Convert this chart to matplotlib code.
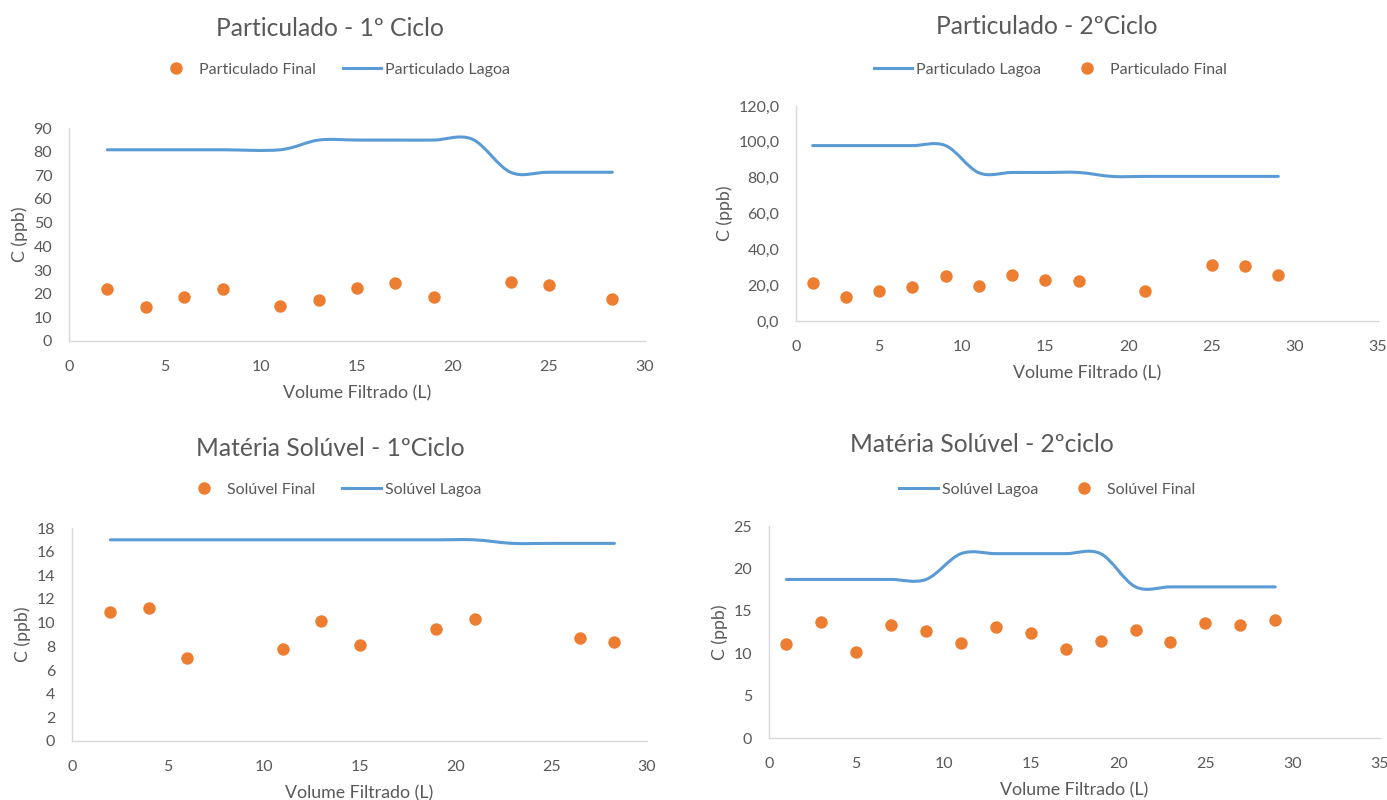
import matplotlib
matplotlib.use("Agg")
import matplotlib.pyplot as plt
from matplotlib.path import Path
from matplotlib.patches import PathPatch
from matplotlib.lines import Line2D
from matplotlib.ticker import FuncFormatter, MultipleLocator
import numpy as np

plt.rcParams['font.family'] = ['Lato', 'DejaVu Sans']

# ---------------- data ----------------
# Panel 1: Particulado - 1º Ciclo
p1_final_x = [2, 4, 6, 8, 11, 13, 15, 17, 19, 23, 25, 28.3]
p1_final_y = [21.9, 14.5, 18.6, 22.0, 14.8, 17.3, 22.6, 24.5, 18.6, 24.8, 23.7, 17.9]
p1_lagoa_x = [2, 4, 6, 8, 11, 13, 15, 17, 19, 21, 23, 25, 28.3]
p1_lagoa_y = [80.8, 80.8, 80.8, 80.8, 80.8, 84.9, 84.9, 84.9, 84.9, 85.3, 71.3, 71.3, 71.3]

# Panel 2: Particulado - 2ºCiclo
p2_final_x = [1, 3, 5, 7, 9, 11, 13, 15, 17, 21, 25, 27, 29]
p2_final_y = [21.0, 13.5, 16.7, 19.1, 25.3, 19.8, 25.6, 22.7, 22.3, 16.7, 31.1, 30.9, 25.6]
p2_lagoa_x = [1, 3, 5, 7, 9, 11, 13, 15, 17, 19, 21, 23, 25, 27, 29]
p2_lagoa_y = [97.9, 97.9, 97.9, 97.9, 97.9, 82.7, 82.9, 82.9, 82.9, 80.7, 80.7, 80.7, 80.7, 80.7, 80.7]

# Panel 3: Matéria Solúvel - 1ºCiclo
p3_final_x = [2, 4, 6, 11, 13, 15, 19, 21, 26.5, 28.3]
p3_final_y = [10.9, 11.2, 7.0, 7.8, 10.1, 8.1, 9.5, 10.3, 8.7, 8.4]
p3_lagoa_x = [2, 4, 6, 8, 11, 13, 15, 17, 19, 21, 23, 25, 28.3]
p3_lagoa_y = [17.0, 17.0, 17.0, 17.0, 17.0, 17.0, 17.0, 17.0, 17.0, 17.0, 16.7, 16.7, 16.7]

# Panel 4: Matéria Solúvel - 2ºciclo
p4_final_x = [1, 3, 5, 7, 9, 11, 13, 15, 17, 19, 21, 23, 25, 27, 29]
p4_final_y = [11.1, 13.7, 10.1, 13.3, 12.6, 11.2, 13.1, 12.4, 10.5, 11.4, 12.7, 11.3, 13.6, 13.3, 13.9]
p4_lagoa_x = [1, 3, 5, 7, 9, 11, 13, 15, 17, 19, 21, 23, 25, 27, 29]
p4_lagoa_y = [18.7, 18.7, 18.7, 18.7, 18.7, 21.74, 21.74, 21.74, 21.74, 21.74, 17.82, 17.82, 17.82, 17.82, 17.82]

titles = ["Particulado - 1º Ciclo", "Particulado - 2ºCiclo",
          "Matéria Solúvel - 1ºCiclo", "Matéria Solúvel - 2ºciclo"]
final_labels = ["Particulado Final", "Particulado Final", "Solúvel Final", "Solúvel Final"]
lagoa_labels = ["Particulado Lagoa", "Particulado Lagoa", "Solúvel Lagoa", "Solúvel Lagoa"]

ORANGE = '#ED7D31'
BLUE = '#5B9BD5'
GRAY = '#595959'
AXC = '#D9D9D9'


def smooth_path(xs, ys):
    """Excel-style smoothed line as cubic Bezier path (Catmull-Rom control points)."""
    P = np.column_stack([xs, ys]).astype(float)
    n = len(P)
    verts = [P[0]]
    codes = [Path.MOVETO]
    for i in range(n - 1):
        p0 = P[i - 1] if i > 0 else P[i]
        p1 = P[i]
        p2 = P[i + 1]
        p3 = P[i + 2] if i + 2 < n else P[i + 1]
        c1 = p1 + (p2 - p0) / 6.0
        c2 = p2 - (p3 - p1) / 6.0
        verts += [c1, c2, p2]
        codes += [Path.CURVE4] * 3
    return Path(verts, codes)


fig = plt.figure(figsize=(13.87, 8.0), dpi=100)

panels = [
    dict(pos=[0.0497, 0.57375, 0.4153, 0.26625], fx=p1_final_x, fy=p1_final_y, lx=p1_lagoa_x, ly=p1_lagoa_y,
         xmax=30, ymax=90, ystep=10, fmt=None, title_xy=(0.238, 0.964), leg_xy=(0.2405, 0.9125), final_first=True),
    dict(pos=[0.5739, 0.59875, 0.4196, 0.26875], fx=p2_final_x, fy=p2_final_y, lx=p2_lagoa_x, ly=p2_lagoa_y,
         xmax=35, ymax=120, ystep=20, fmt='comma', title_xy=(0.755, 0.9675), leg_xy=(0.7574, 0.9125), final_first=False),
    dict(pos=[0.0519, 0.07375, 0.4146, 0.26625], fx=p3_final_x, fy=p3_final_y, lx=p3_lagoa_x, ly=p3_lagoa_y,
         xmax=30, ymax=18, ystep=2, fmt=None, title_xy=(0.2385, 0.440), leg_xy=(0.240, 0.388), final_first=True),
    dict(pos=[0.5544, 0.0775, 0.4405, 0.265], fx=p4_final_x, fy=p4_final_y, lx=p4_lagoa_x, ly=p4_lagoa_y,
         xmax=35, ymax=25, ystep=5, fmt=None, title_xy=(0.7077, 0.445), leg_xy=(0.7552, 0.388), final_first=False),
]

for k, p in enumerate(panels):
    ax = fig.add_axes(p['pos'])
    ax.scatter(p['fx'], p['fy'], s=80, color=ORANGE, zorder=3, linewidths=0)
    path = smooth_path(p['lx'], p['ly'])
    ax.add_patch(PathPatch(path, facecolor='none', edgecolor=BLUE, lw=2.2,
                           capstyle='round', joinstyle='round', transform=ax.transData, zorder=2))
    ax.set_xlim(0, p['xmax'])
    ax.set_ylim(0, p['ymax'])
    ax.xaxis.set_major_locator(MultipleLocator(5))
    ax.yaxis.set_major_locator(MultipleLocator(p['ystep']))
    if p['fmt'] == 'comma':
        ax.yaxis.set_major_formatter(FuncFormatter(lambda v, _: f"{v:.1f}".replace('.', ',')))
    else:
        ax.yaxis.set_major_formatter(FuncFormatter(lambda v, _: f"{v:g}"))
    for s in ['top', 'right']:
        ax.spines[s].set_visible(False)
    for s in ['left', 'bottom']:
        ax.spines[s].set_color(AXC)
        ax.spines[s].set_linewidth(1.0)
    ax.tick_params(length=0, labelsize=11.5, labelcolor=GRAY)
    ax.tick_params(axis='x', pad=14)
    ax.tick_params(axis='y', pad=12)
    ax.set_xlabel("Volume Filtrado (L)", fontsize=12.8, color=GRAY, labelpad=8)
    ax.set_ylabel("C (ppb)", fontsize=12.8, color=GRAY, labelpad=4)
    ax.patch.set_alpha(0)

    fig.text(p['title_xy'][0], p['title_xy'][1], titles[k], fontsize=17.7, color=GRAY,
             ha='center', va='center')

    h_final = Line2D([], [], linestyle='none', marker='o', markersize=9, color=ORANGE,
                     markeredgewidth=0)
    h_lagoa = Line2D([], [], color=BLUE, lw=2.2)
    if p['final_first']:
        handles, labels = [h_final, h_lagoa], [final_labels[k], lagoa_labels[k]]
    else:
        handles, labels = [h_lagoa, h_final], [lagoa_labels[k], final_labels[k]]
    fig.legend(handles, labels, loc='center', bbox_to_anchor=p['leg_xy'], ncol=2,
               frameon=False, fontsize=11.5, labelcolor=GRAY, handlelength=2.4,
               handletextpad=0.25, columnspacing=1.7)

fig.savefig("out.png", dpi=100, facecolor='white')
